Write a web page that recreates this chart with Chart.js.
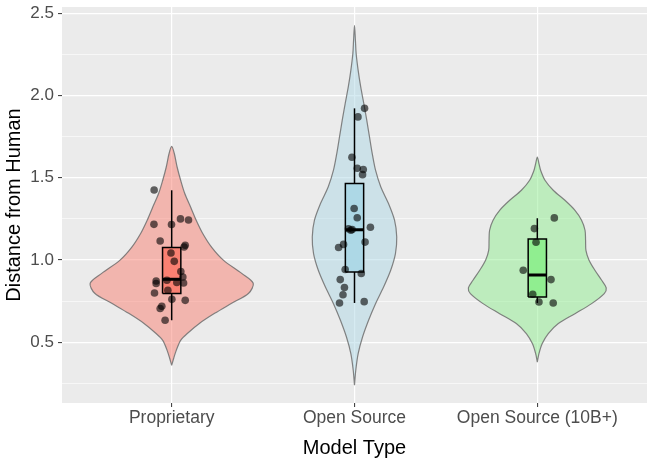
<!DOCTYPE html>
<html>
<head>
<meta charset="utf-8">
<script src="https://cdn.jsdelivr.net/npm/chart.js@4.4.1/dist/chart.umd.min.js"></script>
<style>
  html, body { margin: 0; padding: 0; background: #ffffff; }
  #wrap { width: 654px; height: 467px; }
</style>
</head>
<body>
<div id="wrap"><canvas id="violinChart" width="654" height="467"></canvas></div>
<script>
// categories on the x axis (placed at 1, 2, 3)
var categories = ['Proprietary', 'Open Source', 'Open Source (10B+)'];
var yTickValues = [0.25, 0.5, 0.75, 1.0, 1.25, 1.5, 1.75, 2.0, 2.25, 2.5];

// violin outlines: value (top to bottom) and half width in category units
var propViolinY = [1.691, 1.649, 1.564, 1.485, 1.406, 1.321, 1.242, 1.163, 1.077, 0.998, 0.919, 0.859, 0.798, 0.737, 0.676, 0.616, 0.555, 0.512, 0.451, 0.403, 0.360];
var propViolinW = [0, 0.014, 0.030, 0.049, 0.071, 0.104, 0.134, 0.169, 0.219, 0.284, 0.383, 0.446, 0.421, 0.328, 0.235, 0.153, 0.087, 0.049, 0.025, 0.011, 0];
var openViolinY = [2.427, 2.336, 2.255, 2.153, 2.052, 1.951, 1.850, 1.748, 1.647, 1.546, 1.444, 1.343, 1.242, 1.140, 1.039, 0.938, 0.836, 0.735, 0.634, 0.532, 0.431, 0.330, 0.239];
var openViolinW = [0, 0.005, 0.009, 0.020, 0.034, 0.051, 0.067, 0.082, 0.097, 0.115, 0.144, 0.186, 0.219, 0.231, 0.224, 0.198, 0.159, 0.115, 0.077, 0.044, 0.020, 0.007, 0];
var bigViolinY = [1.626, 1.586, 1.546, 1.485, 1.424, 1.363, 1.302, 1.242, 1.181, 1.120, 1.059, 0.999, 0.938, 0.877, 0.831, 0.796, 0.735, 0.674, 0.614, 0.553, 0.492, 0.431, 0.380];
var bigViolinW = [0, 0.009, 0.018, 0.042, 0.087, 0.151, 0.206, 0.242, 0.261, 0.264, 0.266, 0.283, 0.315, 0.352, 0.377, 0.366, 0.297, 0.206, 0.115, 0.060, 0.027, 0.009, 0];

// jittered points: value and horizontal offset from the category centre
var propPointsY = [1.426, 1.217, 1.216, 1.250, 1.243, 1.116, 1.090, 1.079, 1.043, 0.992, 0.930, 0.863, 0.897, 0.860, 0.873, 0.857, 0.877, 0.800, 0.816, 0.761, 0.755, 0.719, 0.705, 0.634];
var propPointsX = [-0.096, -0.097, -0.001, 0.048, 0.092, -0.063, 0.074, 0.068, -0.004, 0.014, 0.050, 0.028, 0.061, 0.065, -0.085, -0.085, -0.026, -0.094, -0.021, 0.001, 0.074, -0.054, -0.063, -0.036];
var openPointsY = [1.922, 1.870, 1.625, 1.558, 1.550, 1.519, 1.313, 1.257, 1.190, 1.181, 1.186, 1.199, 1.109, 1.095, 1.076, 0.942, 0.918, 0.881, 0.833, 0.789, 0.739, 0.747];
var openPointsX = [0.055, 0.019, -0.014, 0.015, 0.048, 0.044, -0.002, 0.015, -0.033, -0.020, -0.013, 0.087, 0.058, -0.060, -0.087, -0.051, 0.037, -0.078, -0.055, -0.063, -0.082, 0.053];
var bigPointsY = [1.256, 1.191, 1.108, 0.938, 0.881, 0.792, 0.745, 0.739];
var bigPointsX = [0.093, -0.016, -0.007, -0.077, 0.075, -0.025, 0.009, 0.087];

// box plot statistics per category
var whiskerLow = [0.634, 0.739, 0.739];
var boxQ1 = [0.796, 0.927, 0.775];
var boxMedian = [0.883, 1.184, 0.909];
var boxQ3 = [1.076, 1.465, 1.128];
var whiskerHigh = [1.424, 1.922, 1.254];

var violinFill = ['rgba(250,128,114,0.5)', 'rgba(173,216,230,0.5)', 'rgba(144,238,144,0.5)'];
var boxFill = ['#FA8072', '#ADD8E6', '#90EE90'];
var boxHalf = 0.05;

var violins = [[propViolinY, propViolinW], [openViolinY, openViolinW], [bigViolinY, bigViolinW]];
var pointSets = [[propPointsY, propPointsX], [openPointsY, openPointsX], [bigPointsY, bigPointsX]];

function violinOutline(pos, ys, ws) {
    var pts = [];
    // right side, bottom to top
    for (var i = ys.length - 1; i >= 0; i--) pts.push({x: pos + ws[i], y: ys[i]});
    // left side, top to bottom
    for (var j = 1; j < ys.length; j++) pts.push({x: pos - ws[j], y: ys[j]});
    return pts;
}

var datasets = [];

categories.forEach(function(name, k) {
    var pos = k + 1;
    datasets.push({
        type: 'line',
        data: violinOutline(pos, violins[k][0], violins[k][1]),
        borderColor: 'rgba(110,110,110,0.85)',
        borderWidth: 1.2,
        backgroundColor: violinFill[k],
        fill: 'shape',
        tension: 0.3,
        pointRadius: 0,
        order: 5
    });
    // whiskers
    datasets.push({
        type: 'line',
        data: [{x: pos, y: whiskerLow[k]}, {x: pos, y: boxQ1[k]}],
        borderColor: '#000000', borderWidth: 1.5, pointRadius: 0, fill: false, order: 4
    });
    datasets.push({
        type: 'line',
        data: [{x: pos, y: boxQ3[k]}, {x: pos, y: whiskerHigh[k]}],
        borderColor: '#000000', borderWidth: 1.5, pointRadius: 0, fill: false, order: 4
    });
    // box
    datasets.push({
        type: 'line',
        data: [
            {x: pos - boxHalf, y: boxQ1[k]}, {x: pos + boxHalf, y: boxQ1[k]},
            {x: pos + boxHalf, y: boxQ3[k]}, {x: pos - boxHalf, y: boxQ3[k]},
            {x: pos - boxHalf, y: boxQ1[k]}
        ],
        borderColor: '#000000', borderWidth: 1.5,
        backgroundColor: boxFill[k], fill: 'shape',
        tension: 0, pointRadius: 0, order: 3
    });
    // median
    datasets.push({
        type: 'line',
        data: [{x: pos - boxHalf, y: boxMedian[k]}, {x: pos + boxHalf, y: boxMedian[k]}],
        borderColor: '#000000', borderWidth: 3, pointRadius: 0, fill: false, order: 2
    });
    // points
    datasets.push({
        type: 'scatter',
        data: pointSets[k][0].map(function(v, i) { return {x: pos + pointSets[k][1][i], y: v}; }),
        backgroundColor: 'rgba(0,0,0,0.6)',
        borderWidth: 0,
        pointRadius: 3.8,
        order: 1
    });
});

var panelBackground = {
    id: 'panelBackground',
    beforeDraw: function(chart) {
        var c = chart.ctx, a = chart.chartArea;
        c.save();
        c.fillStyle = '#ffffff';
        c.fillRect(0, 0, chart.width, chart.height);
        c.fillStyle = '#EBEBEB';
        c.fillRect(a.left, a.top, a.right - a.left, a.bottom - a.top);
        c.restore();
    }
};

function isMajor(v) {
    return Math.abs(v * 2 - Math.round(v * 2)) < 1e-6;
}

var ctx = document.getElementById('violinChart').getContext('2d');
var chart = new Chart(ctx, {
    type: 'scatter',
    data: { datasets: datasets },
    plugins: [panelBackground],
    options: {
        responsive: false,
        animation: false,
        devicePixelRatio: 1,
        layout: { padding: { top: 7, right: 7, left: 0, bottom: 0 } },
        plugins: { legend: { display: false }, tooltip: { enabled: false } },
        scales: {
            x: {
                type: 'linear',
                min: 0.4,
                max: 3.6,
                afterBuildTicks: function(scale) {
                    scale.ticks = categories.map(function(c, i) { return {value: i + 1}; });
                },
                afterFit: function(scale) {
                    scale.height = 64;
                    scale.paddingLeft = 0;
                    scale.paddingRight = 0;
                },
                ticks: {
                    autoSkip: false,
                    maxRotation: 0,
                    padding: 1,
                    color: '#4D4D4D',
                    font: { family: 'Liberation Sans', size: 17.5 },
                    callback: function(v) { return categories[Math.round(v) - 1]; }
                },
                grid: {
                    color: '#ffffff',
                    lineWidth: 1.2,
                    tickColor: '#333333',
                    tickLength: 4,
                    tickWidth: 1
                },
                border: { display: false },
                title: {
                    display: true,
                    text: 'Model Type',
                    color: '#000000',
                    font: { family: 'Liberation Sans', size: 20 },
                    padding: { top: 0, bottom: 7 }
                }
            },
            y: {
                type: 'linear',
                min: 0.131,
                max: 2.538,
                afterBuildTicks: function(scale) {
                    scale.ticks = yTickValues.map(function(v) { return {value: v}; });
                },
                afterFit: function(scale) {
                    scale.width = 62;
                    scale.paddingTop = 0;
                    scale.paddingBottom = 0;
                },
                ticks: {
                    autoSkip: false,
                    padding: 4,
                    color: '#4D4D4D',
                    font: { family: 'Liberation Sans', size: 17 },
                    callback: function(v) { return isMajor(v) ? v.toFixed(1) : ''; }
                },
                grid: {
                    color: '#ffffff',
                    lineWidth: function(c) { return c.tick && isMajor(c.tick.value) ? 1.2 : 0.6; },
                    tickColor: function(c) { return c.tick && isMajor(c.tick.value) ? '#333333' : 'rgba(0,0,0,0)'; },
                    tickLength: 4,
                    tickWidth: 1
                },
                border: { display: false },
                title: {
                    display: true,
                    text: 'Distance from Human',
                    color: '#000000',
                    font: { family: 'Liberation Sans', size: 20 },
                    padding: { top: 2, bottom: 0 }
                }
            }
        }
    }
});
</script>
</body>
</html>
